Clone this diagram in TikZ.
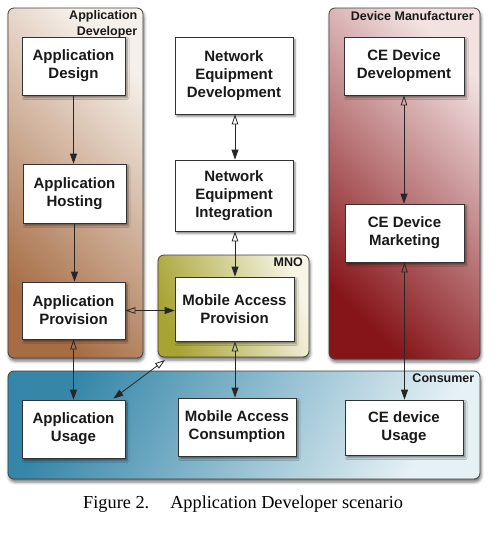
\documentclass[tikz,border=0pt]{standalone}
\usepackage{fontspec}
\setmainfont{Liberation Sans}
\newfontfamily\capfont{Liberation Serif}
\usetikzlibrary{arrows.meta,shadows,shadows.blur,calc}
\definecolor{adD}{HTML}{A66C44}
\definecolor{adL}{HTML}{F6F0EA}
\definecolor{mnD}{HTML}{A8A332}
\definecolor{mnL}{HTML}{F7F5E6}
\definecolor{dmD}{HTML}{861519}
\definecolor{dmL}{HTML}{F2E2E2}
\definecolor{coD}{HTML}{3586A8}
\definecolor{coL}{HTML}{E6F1F5}
\begin{document}
\begin{tikzpicture}[x=1pt,y=-1pt,
  region/.style={draw=black!75, line width=0.8pt, rounded corners=6pt, inner sep=0pt,
    blur shadow={shadow xshift=1pt, shadow yshift=-3pt, shadow blur radius=3pt, shadow opacity=55}},
  box/.style={draw=black!80, line width=0.8pt, fill=white, align=center, inner sep=0pt,
    font=\bfseries\fontsize{15}{18}\selectfont, text=black!90,
    blur shadow={shadow xshift=2pt, shadow yshift=-2.5pt, shadow blur radius=2pt, shadow opacity=50}},
  rlabel/.style={font=\bfseries\fontsize{12.5}{15.5}\selectfont, align=right, inner sep=0pt, text=black!90},
  conn/.style={line width=0.8pt, draw=black!85},
  onearrow/.style={-{Triangle[width=7pt,length=10pt]}},
  twoarrow/.style={{Triangle[open,width=6.5pt,length=10pt]}-{Triangle[width=7pt,length=10pt]}}
]
\useasboundingbox (0,0) rectangle (501,542);

% regions
\node[region, minimum width=135pt, minimum height=350pt, top color=adL, bottom color=adD, shading angle=-45] (rad) at (75.5,183) {};
\node[region, minimum width=151pt, minimum height=351pt, top color=dmL, bottom color=dmD, shading angle=-45] (rdm) at (404.5,183.5) {};
\node[region, minimum width=472pt, minimum height=108pt, top color=coL, bottom color=coD, shading angle=-120] (rco) at (244,425) {};
\node[region, minimum width=151pt, minimum height=102pt, top color=mnL, bottom color=mnD, shading angle=-70] (rmn) at (233.5,306) {};

% region labels
\node[rlabel, anchor=north east] (lad) at (137.5,10.5) {Application\\Developer};
\node[rlabel, anchor=base east] (lmn) at (303,266) {MNO};
\node[rlabel, anchor=base east] (ldm) at (474,20) {Device Manufacturer};
\node[rlabel, anchor=base east] (lco) at (474.5,382.5) {Consumer};

% boxes
\node[box, minimum width=103pt, minimum height=58pt] (ad) at (73.5,66) {Application\\Design};
\node[box, minimum width=103pt, minimum height=59pt] (ah) at (74.5,193.5) {Application\\Hosting};
\node[box, minimum width=103pt, minimum height=57pt] (ap) at (73.5,310.5) {Application\\Provision};
\node[box, minimum width=103pt, minimum height=58pt] (au) at (73.5,429) {Application\\Usage};
\node[box, minimum width=118pt, minimum height=77pt] (ned) at (234,75.5) {Network\\Equipment\\Development};
\node[box, minimum width=118pt, minimum height=71pt] (nei) at (234,195.5) {Network\\Equipment\\Integration};
\node[box, minimum width=119pt, minimum height=64pt] (map) at (234.5,309) {Mobile Access\\Provision};
\node[box, minimum width=118pt, minimum height=58pt] (mac) at (237,427) {Mobile Access\\Consumption};
\node[box, minimum width=120pt, minimum height=58pt] (ced) at (404,66) {CE Device\\Development};
\node[box, minimum width=119pt, minimum height=58pt] (cem) at (404.5,233) {CE Device\\Marketing};
\node[box, minimum width=118pt, minimum height=55pt] (ceu) at (404,427.5) {CE device\\Usage};

% connectors
\coordinate (dg) at (165,360);
\coordinate (aue) at ($(au.north east)+(-12,-1)$);
\draw[conn,onearrow] (ad.south) -- (ad.south |- ah.north);
\draw[conn,onearrow] (ah.south) -- (ah.south |- ap.north);
\draw[conn,twoarrow] (ap.south) -- (ap.south |- au.north);
\draw[conn,twoarrow] (ap.east) -- (ap.east -| map.west);
\draw[conn,twoarrow] ($(ned.south)+(1,0)$) -- ($(ned.south |- nei.north)+(1,0)$);
\draw[conn,twoarrow] ($(nei.south)+(1,0)$) -- ($(nei.south |- map.north)+(1,0)$);
\draw[conn,twoarrow] ($(map.south)+(0.5,0)$) -- ($(map.south |- mac.north)+(0.5,0)$);
\draw[conn,twoarrow] (dg) -- (aue);
\draw[conn,twoarrow] (ced.south) -- (ced.south |- cem.north);
\draw[conn,twoarrow] (cem.south) -- (cem.south |- ceu.north);

% caption
\node[font=\capfont\fontsize{18.3}{22}\selectfont, anchor=base west, inner sep=0pt] (cap) at (83,508) {Figure 2.\hspace{21pt}Application Developer scenario};
\end{tikzpicture}
\end{document}
